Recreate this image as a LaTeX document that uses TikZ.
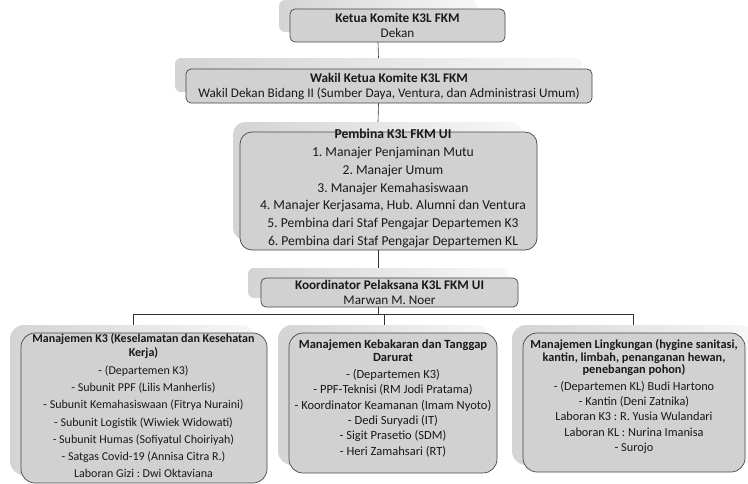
\documentclass[tikz,border=0pt]{standalone}
\usepackage{fontspec}
\setmainfont{Carlito}
\usepackage{tikz}
\usetikzlibrary{shapes}
\frenchspacing

\tikzset{
  card/.style={rounded corners=6pt, left color=black!17, right color=black!3, inner sep=0pt},
  box/.style={draw=black!72, fill=black!18, rounded corners=5pt, line width=0.7pt, inner sep=0pt, align=center, text=black!90},
  txt/.style={inner sep=0pt, align=center, text=black!90},
  link/.style={draw=black!80, line width=0.6pt}
}

\begin{document}
\begin{tikzpicture}[x=1pt,y=-1pt]
    \useasboundingbox (0,0) rectangle (748,483);
    \clip (0,0) rectangle (748,483);
    % ketua
    \node[card, minimum width=198pt, minimum height=32pt] (ketuaB) at (378,16) {};
    \node[box, minimum width=215pt, minimum height=33pt, font=\fontsize{13.2}{15}\selectfont] (ketua) at (397.5,25.5) {\textbf{Ketua Komite K3L FKM}\\Dekan};
    % wakil
    \node[card, minimum width=407pt, minimum height=34pt] (wakilB) at (378.5,75) {};
    \node[box, minimum width=406pt, minimum height=34pt, font=\fontsize{13.2}{15}\selectfont] (wakil) at (389,86) {\textbf{Wakil Ketua Komite K3L FKM}\\Wakil Dekan Bidang II (Sumber Daya, Ventura, dan Administrasi Umum)};
    % pembina
    \node[card, rounded corners=12pt, minimum width=290pt, minimum height=118pt] (pembinaB) at (378,181) {};
    \node[box, rounded corners=12pt, minimum width=297pt, minimum height=118pt] (pembina) at (388.5,191) {};
    \node[txt, font=\fontsize{13.6}{17.8}\selectfont] (pembinaT) at (393,188.5) {\textbf{Pembina K3L FKM UI}\\1. Manajer Penjaminan Mutu\\2. Manajer Umum\\3. Manajer Kemahasiswaan\\4. Manajer Kerjasama, Hub. Alumni dan Ventura\\5. Pembina dari Staf Pengajar Departemen K3\\6. Pembina dari Staf Pengajar Departemen KL};
    % koordinator
    \node[card, minimum width=260pt, minimum height=30pt] (koorB) at (378,283) {};
    \node[box, minimum width=257pt, minimum height=29pt, font=\fontsize{13.2}{15}\selectfont] (koor) at (389.5,292.5) {\textbf{Koordinator Pelaksana K3L FKM UI}\\Marwan M. Noer};
    % bawah
    \node[card, rounded corners=14pt, minimum width=246pt, minimum height=150pt] (k3B) at (133,400) {};
    \node[box, rounded corners=14pt, minimum width=246pt, minimum height=150pt] (k3) at (144,408) {};
    \node[txt, font=\fontsize{12}{17.3}\selectfont] (k3T) at (143.5,406) {\textbf{Manajemen K3 (Keselamatan dan Kesehatan}\\[-3.3pt]\textbf{Kerja)}\\- (Departemen K3)\\- Subunit PPF (Lilis Manherlis)\\- Subunit Kemahasiswaan (Fitrya Nuraini)\\- Subunit Logistik (Wiwiek Widowati)\\- Subunit Humas (Sofiyatul Choiriyah)\\- Satgas Covid-19 (Annisa Citra R.)\\Laboran Gizi : Dwi Oktaviana};
    \node[card, rounded corners=14pt, minimum width=212pt, minimum height=140pt] (darB) at (384,395) {};
    \node[box, rounded corners=14pt, minimum width=208pt, minimum height=140pt] (dar) at (393,403) {};
    \node[txt, font=\fontsize{12.5}{15.3}\selectfont] (darT) at (393,398.5) {\textbf{Manajemen Kebakaran dan Tanggap}\\[-2.5pt]\textbf{Darurat}\\[1.5pt]- (Departemen K3)\\- PPF-Teknisi (RM Jodi Pratama)\\- Koordinator Keamanan (Imam Nyoto)\\- Dedi Suryadi (IT)\\- Sigit Prasetio (SDM)\\- Heri Zamahsari (RT)};
    \node[card, rounded corners=14pt, minimum width=242pt, minimum height=140pt] (lingB) at (633,395) {};
    \node[box, rounded corners=14pt, minimum width=222pt, minimum height=139pt] (ling) at (634,402.5) {};
    \node[txt, font=\fontsize{12.3}{15.3}\selectfont] (lingT) at (634,396.5) {\textbf{Manajemen Lingkungan (hygine sanitasi,}\\[-3pt]\textbf{kantin, limbah, penanganan hewan,}\\[-3pt]\textbf{penebangan pohon)}\\[1.5pt]- (Departemen KL) Budi Hartono\\- Kantin (Deni Zatnika)\\Laboran K3 : R. Yusia Wulandari\\Laboran KL : Nurina Imanisa\\- Surojo};
    % garis
    \coordinate (bus) at (378,314);
    \draw[link] (ketuaB |- ketua.south) -- (wakilB.north);
    \draw[link] (wakilB |- wakil.south) -- (pembinaB.north);
    \draw[link] (pembinaB |- pembina.south) -- (koorB.north);
    \draw[link] (koorB |- koor.south) -- (bus);
    \draw[link] (k3B.north) -- (k3B.north |- bus) -- (lingB.north |- bus) -- (lingB.north);
    \draw[link] (darB.north |- bus) -- (darB.north);
\end{tikzpicture}
\end{document}
